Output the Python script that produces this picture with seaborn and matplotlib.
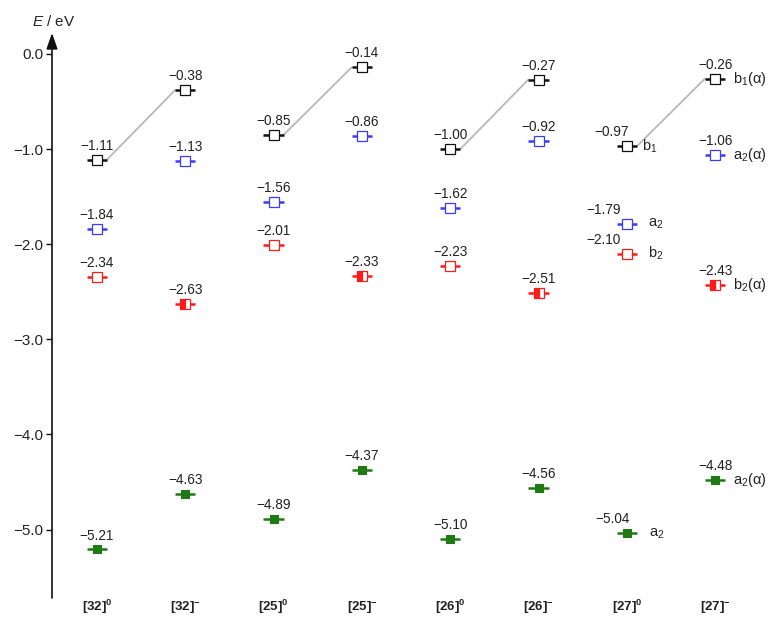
import matplotlib
matplotlib.use("Agg")
import matplotlib.pyplot as plt
import seaborn as sns
import numpy as np
import pandas as pd

# Frontier orbital energies (eV) for the neutral and reduced species
species = ["[32]", "[32]", "[25]", "[25]", "[26]", "[26]", "[27]", "[27]"]
charges = ["0", "-", "0", "-", "0", "-", "0", "-"]
e_b1 = [-1.11, -0.38, -0.85, -0.14, -1.00, -0.27, -0.97, -0.26]
e_a2_virt = [-1.84, -1.13, -1.56, -0.86, -1.62, -0.92, -1.79, -1.06]
e_b2 = [-2.34, -2.63, -2.01, -2.33, -2.23, -2.51, -2.10, -2.43]
e_a2_occ = [-5.21, -4.63, -4.89, -4.37, -5.10, -4.56, -5.04, -4.48]

# symmetry labels shown next to the [27] columns
sym_neutral = ["b$_1$", "a$_2$", "b$_2$", "a$_2$"]
sym_anion = ["b$_1$(α)", "a$_2$(α)", "b$_2$(α)", "a$_2$(α)"]

sns.set_theme(style="white")
plt.rcParams["font.family"] = ["Liberation Sans", "DejaVu Sans"]
plt.rcParams["mathtext.fontset"] = "custom"
plt.rcParams["mathtext.rm"] = "Liberation Sans"
plt.rcParams["mathtext.it"] = "Liberation Sans:italic"
plt.rcParams["mathtext.bf"] = "Liberation Sans:bold"

BLACK = "#111111"
BLUE = "#3a3aff"
RED = "#ff1a1a"
GREEN = "#1f7a14"
TEXT = "#222222"

W, H = 769, 624
fig = plt.figure(figsize=(W / 100, H / 100), dpi=100)
ax = fig.add_axes([52 / W, 26 / H, (W - 52) / W, (598 - 33) / H])

n = len(species)
xs = np.arange(n)
half = 0.115  # half-width of each level bar (data units)

levels = pd.DataFrame({
    "x": np.tile(xs, 4),
    "energy": e_b1 + e_a2_virt + e_b2 + e_a2_occ,
    "orbital": ["b1"] * n + ["a2v"] * n + ["b2"] * n + ["a2o"] * n,
    "anion": [c == "-" for c in charges] * 4,
})
colors = {"b1": BLACK, "a2v": BLUE, "b2": RED, "a2o": GREEN}

# gray connectors between b1 levels of each neutral/anion pair
for i in range(0, n, 2):
    seg = pd.DataFrame({"x": [xs[i] + half, xs[i + 1] - half],
                        "y": [e_b1[i], e_b1[i + 1]]})
    sns.lineplot(data=seg, x="x", y="y", color="#b8b8b8", lw=1.3, ax=ax,
                 zorder=1, sort=False, estimator=None)

# level bars
for orb, grp in levels.groupby("orbital"):
    ax.hlines(grp["energy"], grp["x"] - half, grp["x"] + half,
              color=colors[orb], lw=1.8, zorder=2)

# open squares (empty levels)
for orb in ["b1", "a2v", "b2"]:
    grp = levels[(levels.orbital == orb) & ~((orb == "b2") & levels.anion)]
    ax.plot(grp["x"], grp["energy"], ls="none", marker="s", ms=6.5,
            mfc="white", mec=colors[orb], mew=0.9, zorder=3)

# half-filled squares (singly occupied b2 in the anions)
grp = levels[(levels.orbital == "b2") & levels.anion]
ax.plot(grp["x"], grp["energy"], ls="none", marker="s", ms=6.5,
        fillstyle="left", mfc=RED, mfcalt="white", mec=RED, mew=0.9, zorder=3)

# filled squares (occupied a2)
grp = levels[levels.orbital == "a2o"]
sns.scatterplot(data=grp, x="x", y="energy", marker="s", s=40,
                color=GREEN, edgecolor=GREEN, linewidth=0.8, ax=ax, zorder=3,
                legend=False)

# value labels above each level
shift_27n = [-0.17, -0.26, -0.26, -0.16]
for k, arr in enumerate([e_b1, e_a2_virt, e_b2, e_a2_occ]):
    for i, v in enumerate(arr):
        dx = shift_27n[k] if i == 6 else 0.0
        ax.annotate(f"{v:.2f}".replace("-", "−"), (xs[i] + dx, v),
                    xytext=(0, 5), textcoords="offset points",
                    ha="center", va="bottom", fontsize=9.8, color=TEXT)

# symmetry labels for [27]
off_n = [0.17, 0.24, 0.24, 0.25]
for k, arr in enumerate([e_b1, e_a2_virt, e_b2, e_a2_occ]):
    ax.text(xs[6] + off_n[k], arr[6], sym_neutral[k], ha="left",
            va="center", fontsize=10.5, color=TEXT)
    ax.text(xs[7] + 0.20, arr[7], sym_anion[k], ha="left",
            va="center", fontsize=10.5, color=TEXT)

ax.set_xlim((52 - 97) / 88.3, (W - 97) / 88.3)
ax.set_ylim(-5.72, 0.22)

for s in ax.spines.values():
    s.set_visible(False)
ax.annotate("", xy=(0, 1), xycoords="axes fraction", xytext=(0, 0),
            textcoords="axes fraction",
            arrowprops=dict(arrowstyle="-|>,head_length=0.8,head_width=0.28",
                            color=BLACK, lw=1.2, shrinkA=0, shrinkB=0))

yt = [0, -1, -2, -3, -4, -5]
ax.set_yticks(yt)
ax.set_yticklabels([f"{t:.1f}".replace("-", "−") for t in yt],
                   fontsize=11, color=TEXT)
ax.tick_params(axis="y", direction="out", length=4, width=1, color=BLACK,
               pad=2, left=True)

# species labels with charge superscripts, aligned on a common baseline
ax.set_xticks(xs)
ax.set_xticklabels([rf"$\mathbf{{{s}}}^{{\mathbf{{{c}}}}}$"
                    for s, c in zip(species, charges)],
                   fontsize=9.5, color=TEXT)
ax.tick_params(axis="x", length=0, bottom=False, pad=9.5)
for lbl in ax.get_xticklabels():
    lbl.set_verticalalignment("baseline")
ax.set_xlabel("")
ax.set_ylabel("")

fig.text(54 / W, 1 - 22 / H, "$E$ / eV", ha="center", va="center",
         fontsize=11, color=TEXT)

fig.savefig("out.png", dpi=100)
